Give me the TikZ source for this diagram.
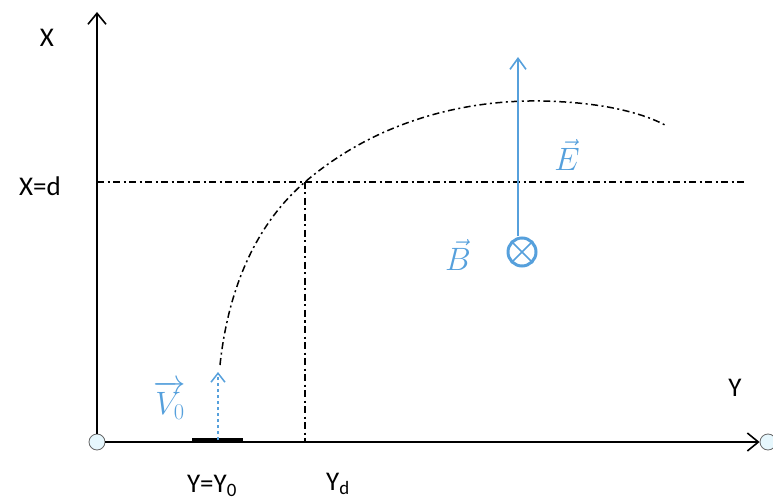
\documentclass[tikz,border=0pt]{standalone}
\usepackage{fontspec}
\setmainfont{Carlito}
\usepackage{amsmath}
\usepackage{graphicx}
\usetikzlibrary{arrows.meta}
\definecolor{fieldblue}{RGB}{86,160,220}
\newcommand{\bigvec}[1]{\scalebox{1.3}{$#1$}}

\begin{document}
\begin{tikzpicture}[x=1pt,y=-1pt,font=\fontsize{27}{30}\selectfont,
  axis/.style={line width=1.6pt,-{Straight Barb[length=11pt,width=18pt]}},
  dashdot/.style={line width=1.5pt,dash pattern=on 7pt off 3.5pt on 2pt off 3.5pt},
  pole/.style={circle,draw=gray!80!black,fill=cyan!10,thick,minimum size=16pt,inner sep=0pt},
  vec/.style={fieldblue}]
\useasboundingbox (0,0) rectangle (773,502);
\node[pole] (O) at (97,442) {};
\node[pole] (E) at (768,442) {};
\coordinate (Xtop) at (97,12);
\draw[axis] (O) -- (Xtop);
\draw[axis] (O) -- (E);
\node at (47,38) {X};
\node at (735,388) {Y};
\node at (40,186) {X=d};
\node at (212,486) {Y=Y\textsubscript{0}};
\node at (338,484) {Y\textsubscript{d}};
% levels
\coordinate (D0) at (97,182);
\coordinate (D1) at (745,182);
\coordinate (Yd) at (305,442);
\draw[dashdot] (D0) -- (D1);
\draw[dashdot] (305,182) -- (Yd);
% trajectory
\draw[dashdot] (220,365) .. controls (228,290) and (255,225) .. (305,182)
  .. controls (380,118) and (470,100) .. (540,101)
  .. controls (600,102) and (640,112) .. (665,125);
\draw[line width=3.5pt] (192,440) -- (243,440);
% fields
\coordinate (V0) at (218,440);
\coordinate (V1) at (218,372);
\draw[fieldblue,line width=1.5pt,dashed,-{Straight Barb[length=9pt,width=14pt]}] (V0) -- (V1);
\node[vec] at (170,400) {\bigvec{\overrightarrow{V_0}}};
\node[circle,draw=fieldblue,line width=3pt,minimum size=28pt,inner sep=0pt] (B) at (522,252) {};
\draw[fieldblue,line width=1.5pt] (B.north west) -- (B.south east) (B.north east) -- (B.south west);
\coordinate (Etop) at (518,57);
\draw[fieldblue,line width=1.6pt,-{Straight Barb[length=11pt,width=16pt]}] (B.north -| Etop) -- (Etop);
\node[vec] at (567,155) {\bigvec{\vec{E}}};
\node[vec] at (458,255) {\bigvec{\vec{B}}};
\end{tikzpicture}
\end{document}
